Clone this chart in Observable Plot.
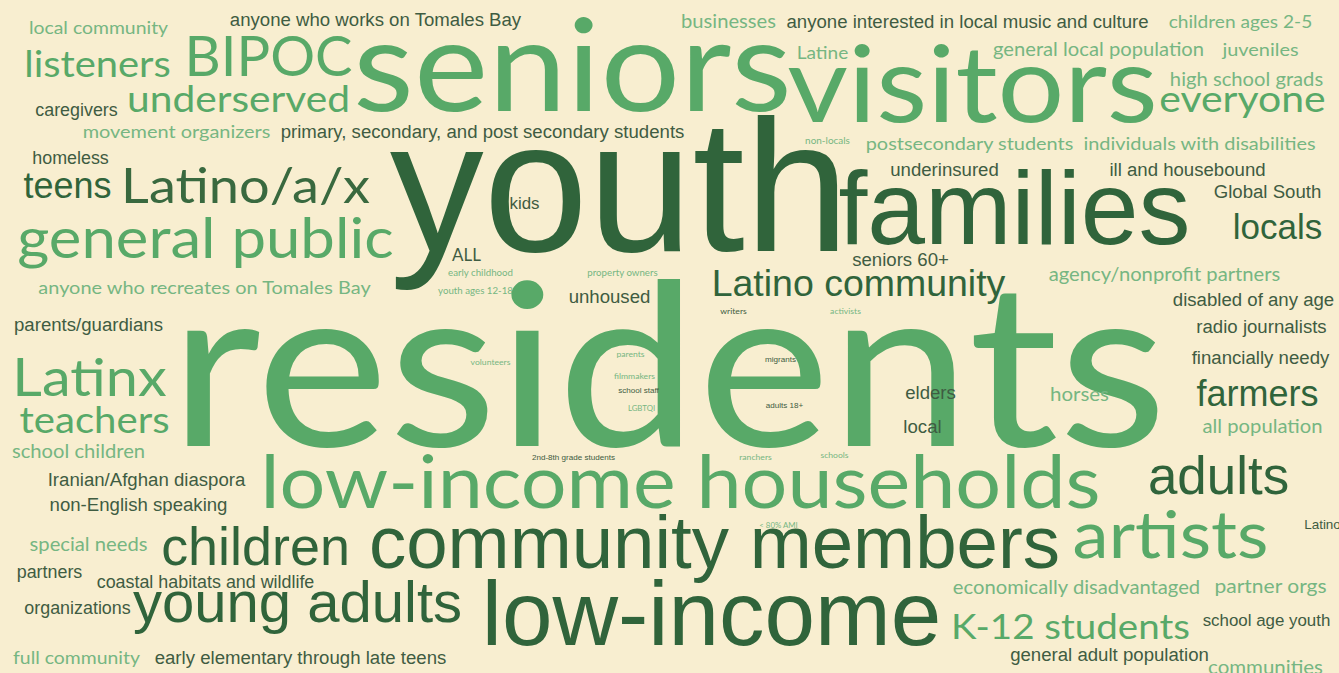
<!DOCTYPE html>
<html>
<head>
<meta charset="utf-8">
<script src="https://cdn.jsdelivr.net/npm/d3@7"></script>
<script src="https://cdn.jsdelivr.net/npm/@observablehq/plot@0.6"></script>
<style>
  html, body { margin: 0; padding: 0; background: #f8eed0; overflow: hidden; }
</style>
</head>
<body>
<div id="chart"></div>
<script>
// Words of the cloud
const words = [
  "local community","anyone who works on Tomales Bay","BIPOC","listeners","seniors","underserved","caregivers",
  "movement organizers","primary, secondary, and post secondary students","homeless","businesses",
  "anyone interested in local music and culture","children ages 2-5","Latine","visitors","general local population",
  "juveniles","high school grads","everyone","non-locals","postsecondary students","individuals with disabilities",
  "youth","families","underinsured","ill and housebound","Global South","locals","teens","Latino/a/x",
  "general public","anyone who recreates on Tomales Bay","kids","ALL","early childhood","property owners",
  "youth ages 12-18","unhoused","seniors 60+","Latino community","agency/nonprofit partners","disabled of any age",
  "radio journalists","writers","activists","parents/guardians","residents","Latinx","teachers","school children",
  "Iranian/Afghan diaspora","non-English speaking","volunteers","parents","filmmakers","school staff","LGBTQI",
  "migrants","adults 18+","2nd-8th grade students","ranchers","schools","< 80% AMI","elders","local","horses",
  "financially needy","farmers","all population","adults","low-income households","children","community members",
  "artists","Latino","special needs","partners","coastal habitats and wildlife","organizations","young adults",
  "low-income","K-12 students","economically disadvantaged","partner orgs","school age youth",
  "general adult population","communities","full community","early elementary through late teens"
];
// Relative weight of each word (0-100)
const weights = [
  7.2,7.6,22.9,14.8,52.2,15.1,7.3,
  7.4,7.6,7.3,7.5,
  7.6,7.1,7.1,43.7,7.5,
  7.4,7.5,15.2,3.7,7.4,7.4,
  76.7,42.4,7.6,7.6,7.6,14.3,14.7,20.1,
  22.9,7.4,6.9,6.9,3.6,3.6,
  3.6,7.6,7.6,15.3,7.5,7.6,
  7.6,3.2,3.2,7.6,93.1,21.4,14.9,7.5,
  7.6,7.6,3.2,3.2,3.2,3.3,3.2,
  3.3,3.3,3.3,3.2,3.2,3.2,7.6,7.6,7.6,
  7.6,14.7,7.5,21.6,30.0,22.0,30.4,
  26.9,5.5,7.5,7.3,7.3,7.3,23.7,
  37.1,14.3,7.5,7.8,6.9,
  7.6,7.6,7.2,7.6
];
// Typeface family of each word: "R" rounded geometric, "A" grotesque
const faces = [
  "R","A","R","R","R","R","A",
  "R","A","A","R",
  "A","R","R","R","R",
  "R","R","R","R","R","R",
  "A","A","A","A","A","A","A","R",
  "R","R","A","R","R","R",
  "R","A","A","A","R","A",
  "A","R","R","A","R","R","R","R",
  "A","A","R","R","R","A","R",
  "A","A","A","R","R","R","A","A","R",
  "A","A","R","A","R","A","A",
  "R","A","R","A","A","A","A",
  "A","R","R","R","A",
  "A","R","R","A"
];
// Colour group of each word
const tones = [
  "pale","grey","light","light","light","light","grey",
  "pale","grey","grey","pale",
  "grey","pale","pale","light","pale",
  "pale","pale","light","pale","pale","pale",
  "dark","dark","grey","grey","grey","dark","dark","mid",
  "light","pale","grey","grey","pale","pale",
  "pale","grey","grey","dark","pale","grey",
  "grey","grey","pale","grey","light","light","light","pale",
  "grey","grey","pale","pale","pale","grey","pale",
  "grey","grey","grey","pale","pale","pale","grey","grey","pale",
  "grey","dark","pale","dark","light","dark","dark",
  "light","grey","pale","grey","grey","grey","dark",
  "dark","light","pale","pale","grey",
  "grey","pale","pale","grey"
];
// Cloud layout: horizontal centre and baseline of each word
const layoutX = [
  98,375,268,97,572,238,76,
  176,482,70,728,
  967,1240,822,972,1098,
  1260,1246,1242,827,969,1199,
  619,1014,944,1187,1267,1277,67,245,
  205,204,524,466,480,622,
  475,609,900,858,1164,1253,
  1261,733,845,88,668,89,94,78,
  146,138,490,630,634,638,641,
  780,784,573,755,834,778,930,922,1079,
  1260,1257,1262,1218,680,255,714,
  1170,1322,88,49,205,77,297,
  711,1070,1076,1270,1266,
  1109,1265,76,300
];
const layoutY = [
  33,25,75,76,110,111,115,
  137,137,163,27,
  27,27,58,121,55,
  55,85,111,143,149,149,
  250,243,175,175,197,238,197,202,
  257,293,208,260,275,275,
  293,302,265,295,280,305,
  332,313,313,330,445,395,432,457,
  485,510,364,356,378,392,410,
  361,407,459,459,457,527,398,432,400,
  363,405,432,493,507,564,567,
  557,528,550,577,587,613,621,
  644,638,593,592,625,
  660,673,663,663
];

const toneNames = ["light","pale","mid","dark","grey"];
const toneColors = ["#58a968","#76b682","#39693f","#30643b","#3f5c42"];
const geometricWidth = 1.1; // horizontal proportion of the geometric face

const rows = words.map((w, i) => ({
  word: w, weight: weights[i], face: faces[i], tone: tones[i], x: layoutX[i], y: layoutY[i]
}));
const sizeOf = d => d.weight * 2.45;

const common = {
  x: "x", y: "y", text: "word", fill: "tone",
  fontSize: sizeOf, textAnchor: "middle", lineAnchor: "bottom"
};

const chart = Plot.plot({
  width: 1339,
  height: 673,
  margin: 0,
  x: {domain: [0, 1339], axis: null},
  y: {domain: [0, 673], reverse: true, axis: null},
  color: {domain: toneNames, range: toneColors},
  style: {background: "#f8eed0", overflow: "hidden"},
  marks: [
    Plot.text(rows.filter(d => d.face === "R"), {...common, fontFamily: "Lato", fontWeight: 400}),
    Plot.text(rows.filter(d => d.face === "A"), {...common, fontFamily: "Liberation Sans, Arial, sans-serif"})
  ]
});
document.getElementById("chart").appendChild(chart);

// widen the geometric face's lowercase words to its wider proportions
const groups = chart.querySelectorAll('g[aria-label="text"]');
if (groups.length) {
  groups[0].querySelectorAll("text").forEach(t => {
    if (/[a-z]/.test(t.textContent)) {
      const len = t.getComputedTextLength();
      t.setAttribute("textLength", (len * geometricWidth).toFixed(1));
      t.setAttribute("lengthAdjust", "spacingAndGlyphs");
    }
  });
}
</script>
</body>
</html>
